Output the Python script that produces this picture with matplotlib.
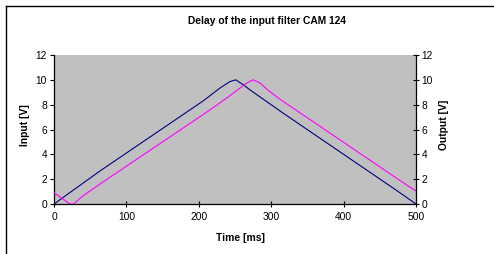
import numpy as np
import matplotlib
matplotlib.use("Agg")
import matplotlib.pyplot as plt
from matplotlib.lines import Line2D

plt.rcParams['font.family'] = ['Liberation Sans', 'DejaVu Sans']

# values
t_in = [0, 63.5, 206, 229, 243, 251, 261.5, 270.7, 316.7, 471, 500]
v_in = [0, 2.66, 8.3, 9.33, 9.86, 10.0, 9.6, 9.19, 7.31, 1.18, 0]

t_out = [0, 22, 27, 40, 63.5, 215.5, 240, 255, 265, 275, 284.5, 293.8, 312, 491.7, 500]
v_out = [0.91, 0, 0, 0.65, 1.61, 7.58, 8.6, 9.25, 9.7, 10.0, 9.75, 9.25, 8.44, 1.35, 1.05]

x_ticks = [0, 100, 200, 300, 400, 500]
y_ticks = [0, 2, 4, 6, 8, 10, 12]

W, H = 494, 254
fig = plt.figure(figsize=(W / 100, H / 100), dpi=100)

# outer frame (left and top edges visible)
fig.add_artist(Line2D([5.5 / W, 5.5 / W], [0, 1 - 5.5 / H], color='black', lw=1.0,
                      transform=fig.transFigure))
fig.add_artist(Line2D([5.5 / W, 1], [1 - 5.5 / H, 1 - 5.5 / H], color='black', lw=1.0,
                      transform=fig.transFigure))

ax = fig.add_axes([54 / W, (H - 204) / H, (416 - 54) / W, (204 - 55) / H])
ax.set_facecolor('#c0c0c0')
ax.plot(t_in, v_in, color='#000080', lw=0.8)
ax.set_xlim(0, 500)
ax.set_ylim(0, 12)
ax.set_xticks(x_ticks)
ax.set_yticks(y_ticks)
ax.tick_params(axis='x', direction='inout', length=4, width=0.8, labelsize=7.4, pad=4)
ax.tick_params(axis='y', direction='out', length=3, width=0.8, labelsize=7.4, pad=2)
ax.spines['top'].set_visible(False)
ax.spines['right'].set_visible(False)
for s in ('left', 'bottom'):
    ax.spines[s].set_linewidth(0.9)

ax2 = ax.twinx()
ax2.plot(t_out, v_out, color='#ff00ff', lw=0.8)
ax2.set_ylim(0, 12)
ax2.set_yticks(y_ticks)
ax2.tick_params(axis='y', direction='inout', length=4, width=0.8, labelsize=7.4, pad=2)
ax2.spines['top'].set_visible(False)
ax2.spines['left'].set_visible(False)
ax2.spines['bottom'].set_visible(False)
ax2.spines['right'].set_linewidth(0.9)

fig.text(267 / W, 1 - 21 / H, 'Delay of the input filter CAM 124', ha='center', va='center',
         fontsize=7.4, fontweight='bold')
fig.text(240 / W, 1 - 238 / H, 'Time [ms]', ha='center', va='center',
         fontsize=7.4, fontweight='bold')
fig.text(25 / W, 1 - 125 / H, 'Input [V]', ha='center', va='center', rotation=90,
         fontsize=7.4, fontweight='bold')
fig.text(444 / W, 1 - 125 / H, 'Output [V]', ha='center', va='center', rotation=90,
         fontsize=7.4, fontweight='bold')

fig.savefig('out.png', dpi=100)
